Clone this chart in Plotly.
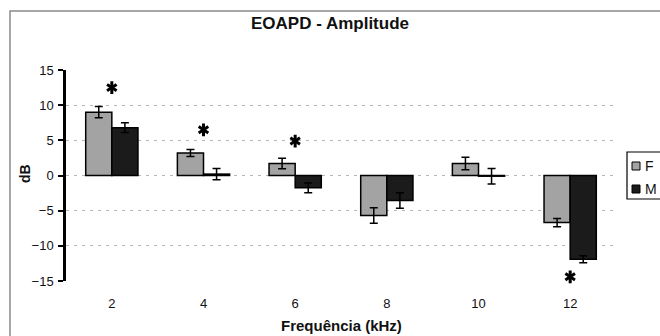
import plotly.graph_objects as go

# ---- data ----
frequencies = ["2", "4", "6", "8", "10", "12"]
series_names = ["F", "M"]
f_values = [9.0, 3.2, 1.7, -5.7, 1.7, -6.7]
f_errors = [0.8, 0.5, 0.75, 1.1, 0.9, 0.6]
m_values = [6.8, 0.2, -1.75, -3.55, -0.1, -11.9]
m_errors = [0.7, 0.8, 0.7, 1.1, 1.1, 0.5]
sig_freqs = ["2", "4", "6", "12"]
sig_marks = [12.5, 6.5, 4.9, -14.4]
y_ticks = [-15, -10, -5, 0, 5, 10, 15]

F_COLOR = "#a3a3a3"
M_COLOR = "#1b1b1b"
W, H = 660, 336
L, R, T, B = 66, 44, 70, 55
PW, PH = W - L - R, H - T - B

def px_x(x):
    return (x - L) / PW

def px_y(y):
    return (H - B - y) / PH

fig = go.Figure()
fig.add_trace(go.Bar(
    x=frequencies, y=f_values, name=series_names[0],
    marker=dict(color=F_COLOR, line=dict(color="black", width=1.5)),
    error_y=dict(type="data", array=f_errors, color="black", thickness=1.5, width=4),
))
fig.add_trace(go.Bar(
    x=frequencies, y=m_values, name=series_names[1],
    marker=dict(color=M_COLOR, line=dict(color="black", width=1.5)),
    error_y=dict(type="data", array=m_errors, color="black", thickness=1.5, width=4),
))

# significance asterisks (six-armed star built from two "Y" markers)
for sym in ["y-up-open", "y-down-open"]:
    fig.add_trace(go.Scatter(
        x=sig_freqs, y=sig_marks, mode="markers", showlegend=False, hoverinfo="skip",
        marker=dict(symbol=sym, size=8, color="black", line=dict(color="black", width=3)),
        cliponaxis=False,
    ))

annotations = []
annotations.append(dict(
    x=0.5, y=0, xref="paper", yref="paper", yanchor="middle", yshift=-44,
    text="<b>Frequência (kHz)</b>", showarrow=False,
    font=dict(family="Liberation Sans, Arial, sans-serif", size=15, color="#111"),
))
annotations.append(dict(
    x=0, y=px_y(174), xref="paper", yref="paper", xanchor="center", yanchor="middle",
    xshift=25 - L, textangle=-90,
    text="<b>dB</b>", showarrow=False,
    font=dict(family="Liberation Sans, Arial, sans-serif", size=14, color="#111"),
))

shapes = [
    # outer frame
    dict(type="rect", xref="paper", yref="paper",
         x0=px_x(10), x1=px_x(700), y0=px_y(400), y1=px_y(11),
         line=dict(color="#8a8a8a", width=1.5), fillcolor="rgba(0,0,0,0)", layer="below"),
    # legend box
    dict(type="rect", xref="paper", yref="paper",
         x0=px_x(627), x1=px_x(700), y0=px_y(199), y1=px_y(152),
         line=dict(color="black", width=1.2), fillcolor="white"),
]
legend_colors = [F_COLOR, M_COLOR]
legend_rows = [166, 189]
for name, col, ry in zip(series_names, legend_colors, legend_rows):
    shapes.append(dict(type="rect", xref="paper", yref="paper",
                       x0=px_x(632), x1=px_x(640), y0=px_y(ry + 4), y1=px_y(ry - 4),
                       line=dict(color="black", width=1), fillcolor=col))
    annotations.append(dict(
        x=px_x(643), y=px_y(ry), xref="paper", yref="paper", xanchor="left", yanchor="middle",
        text=name, showarrow=False,
        font=dict(family="Liberation Sans, Arial, sans-serif", size=14, color="#111"),
    ))

fig.update_layout(
    width=W, height=H,
    margin=dict(l=L, r=R, t=T, b=B, autoexpand=False),
    paper_bgcolor="white", plot_bgcolor="white",
    barmode="group", bargap=0.43, bargroupgap=0,
    showlegend=False,
    title=dict(text="<b>EOAPD - Amplitude</b>", x=0.5, xanchor="center",
               y=1 - 23 / H, yanchor="middle", yref="container",
               font=dict(family="Liberation Sans, Arial, sans-serif", size=17, color="#111")),
    font=dict(family="Liberation Sans, Arial, sans-serif", size=13, color="#111"),
    annotations=annotations, shapes=shapes,
)
fig.update_xaxes(
    type="category", categoryorder="array", categoryarray=frequencies,
    range=[-0.5, len(frequencies) - 0.5],
    showline=False, showgrid=False, zeroline=False, ticks="",
    tickfont=dict(size=13), ticklabelstandoff=13,
)
fig.update_yaxes(
    range=[-15, 15], tickvals=y_ticks, showgrid=True,
    gridcolor="#b5b5b5", griddash="3px,5px", gridwidth=1,
    zeroline=False, showline=True, linecolor="black", linewidth=2.5,
    ticks="outside", ticklen=5, tickwidth=2, tickcolor="black",
    tickfont=dict(size=13), ticklabelstandoff=2,
)

fig.write_html(
    "out.html",
    config={"displayModeBar": False},
    post_script="document.body.style.margin='0';document.body.style.padding='0';",
)
